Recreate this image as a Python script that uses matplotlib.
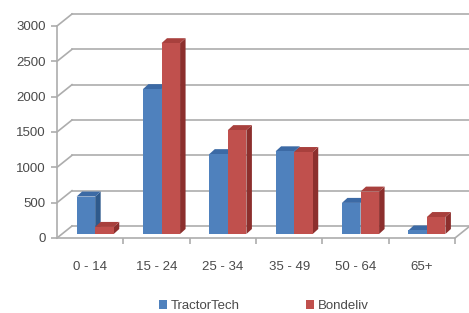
import matplotlib.pyplot as plt
from matplotlib.patches import Polygon, Patch

# dados
categorias = ['0 - 14', '15 - 24', '25 - 34', '35 - 49', '50 - 64', '65+']
tractortech = [530, 2050, 1130, 1170, 440, 50]
bondeliv = [100, 2700, 1470, 1160, 600, 240]
series = ['TractorTech', 'Bondeliv']

# cores (frente, topo, lado)
cores = {
    'TractorTech': ('#4F81BD', '#3C6AA5', '#2F5A8C'),
    'Bondeliv': ('#C0504D', '#A8403D', '#8C2F2D'),
}

fig = plt.figure(figsize=(4.69, 3.13), dpi=100)
ax = fig.add_axes([57 / 469, 75 / 313, 398 / 469, 212 / 313])
n = len(categorias)
ax.set_xlim(-0.5, n - 0.5)
ax.set_ylim(0, 3000)

# conversao pixel -> unidades de dados
px_x = (n / (398.0))
px_y = (3000 / 212.0)

def off(dx, dy):
    return dx * px_x, dy * px_y

cinza = '#ADADAD'
texto = '#4A4A4A'

# parede do fundo (grade) e parede lateral
wx, wy = off(15, 12)
for v in range(0, 3001, 500):
    ax.plot([-0.5 + wx, n - 0.5 + wx], [v + wy, v + wy], color=cinza, lw=1.2,
            clip_on=False, zorder=1)
    ax.plot([-0.5, -0.5 + wx], [v, v + wy], color=cinza, lw=1.2,
            clip_on=False, zorder=1)
# piso: aresta direita
ax.plot([n - 0.5, n - 0.5 + wx], [0, wy], color=cinza, lw=1.2, clip_on=False, zorder=1)

# barras com efeito 3D
bx, by = off(5, 4)
dx, dy = off(5.5, 5)
w = 0.28
for i in range(n):
    for j, (nome, vals) in enumerate([('TractorTech', tractortech), ('Bondeliv', bondeliv)]):
        frente, topo, lado = cores[nome]
        h = vals[i]
        x0 = i - w + j * w + bx
        x1 = x0 + w
        y0 = by
        y1 = by + h
        z = 3 + j
        ax.add_patch(Polygon([(x1, y0), (x1 + dx, y0 + dy), (x1 + dx, y1 + dy), (x1, y1)],
                             closed=True, facecolor=lado, edgecolor='none',
                             clip_on=False, zorder=z))
        ax.add_patch(Polygon([(x0, y1), (x0 + dx, y1 + dy), (x1 + dx, y1 + dy), (x1, y1)],
                             closed=True, facecolor=topo, edgecolor='none',
                             clip_on=False, zorder=z))
        ax.bar(x0, h, width=w, bottom=y0, align='edge', color=frente,
               edgecolor='none', clip_on=False, zorder=z)

# eixos
for s in ['top', 'right']:
    ax.spines[s].set_visible(False)
for s in ['left', 'bottom']:
    ax.spines[s].set_color(cinza)
    ax.spines[s].set_linewidth(1.2)
ax.set_yticks(range(0, 3001, 500))
ax.tick_params(axis='y', colors=cinza, labelcolor=texto, length=4, width=1.2,
               labelsize=9.5, pad=4)
ax.set_xticks(range(n))
ax.set_xticklabels(categorias)
ax.set_xticks([i + 0.5 for i in range(n)], minor=True)
ax.tick_params(axis='x', which='major', length=0, labelcolor=texto, labelsize=9.5, pad=16.5)
ax.tick_params(axis='x', which='minor', length=4, width=1.2, colors=cinza)
for lbl in ax.get_xticklabels() + ax.get_yticklabels():
    lbl.set_fontfamily('Liberation Sans')
ax.patch.set_visible(False)

# legenda
handles = [Patch(facecolor=cores[s][0], edgecolor='none') for s in series]
leg = fig.legend(handles, series, loc='center', bbox_to_anchor=(264 / 469, 7 / 313),
                 ncol=2, frameon=False, handlelength=0.6, handleheight=0.6,
                 handletextpad=0.3, columnspacing=5.0, borderpad=0.1,
                 prop={'family': 'Liberation Sans', 'size': 9.5})
for t in leg.get_texts():
    t.set_color(texto)

fig.savefig('out.png', dpi=100)
